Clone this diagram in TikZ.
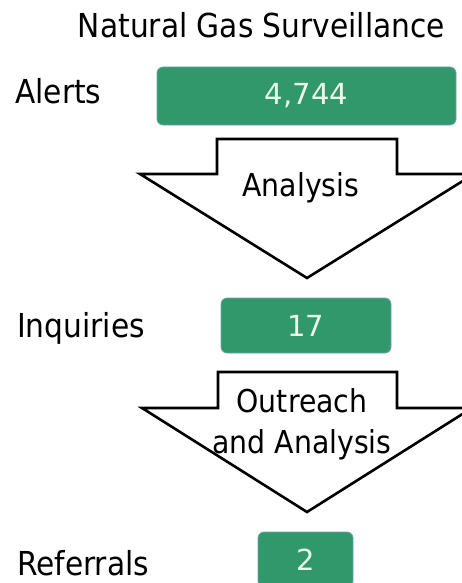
\documentclass[tikz,border=0pt]{standalone}
\usepackage{fontspec}
\setmainfont{DejaVu Sans Condensed}
\newfontfamily\numfont{DejaVu Sans}
\definecolor{boxgreen}{RGB}{48,152,106}
\definecolor{boxedge}{RGB}{110,165,170}
\definecolor{boxtext}{RGB}{236,248,236}
\begin{document}
\begin{tikzpicture}[x=1pt,y=-1pt,
  lbl/.style={font=\fontsize{33}{41}\selectfont, text=black, inner sep=0pt},
  arrowlbl/.style={font=\fontsize{31.5}{41}\selectfont, text=black, inner sep=0pt, align=center},
  numbox/.style={fill=boxgreen, draw=boxedge, rounded corners=6pt, line width=0.8pt,
    font=\numfont\fontsize{29}{34}\selectfont, text=boxtext, inner sep=0pt},
  blockarrow/.style={draw=black, fill=white, line width=2.6pt, line join=miter}]
\useasboundingbox (0,0) rectangle (462,583);
\clip (0,0) rectangle (462,583);

% title and row labels
\node[lbl, anchor=base] (title) at (261.5,38) {Natural Gas Surveillance};
\node[lbl, anchor=base west] (alerts) at (15,103) {Alerts};
\node[lbl, anchor=base west] (inquiries) at (17,337) {Inquiries};
\node[lbl, anchor=base west] (referrals) at (17,575) {Referrals};

% number boxes
\node[numbox, minimum width=299pt, minimum height=58pt] (n1) at (306.5,96) {4,744};
\node[numbox, minimum width=170pt, minimum height=55pt] (n2) at (306,325.5) {17};
\node[numbox, minimum width=95pt, minimum height=55pt] (n3) at (305.5,559.5) {2};

% block arrows
\draw[blockarrow] (217,139) -- (397,139) -- (397,174) -- (474,174) -- (307,278)
  -- (140,174) -- (217,174) -- cycle;
\draw[blockarrow] (218,372) -- (397,372) -- (397,408) -- (472,408) -- (307,512)
  -- (142,408) -- (218,408) -- cycle;

% arrow labels
\node[arrowlbl, anchor=base] (a1) at (301,196) {Analysis};
\node[arrowlbl, anchor=base] (a2) at (302,453) {Outreach\\and Analysis};
\end{tikzpicture}
\end{document}
